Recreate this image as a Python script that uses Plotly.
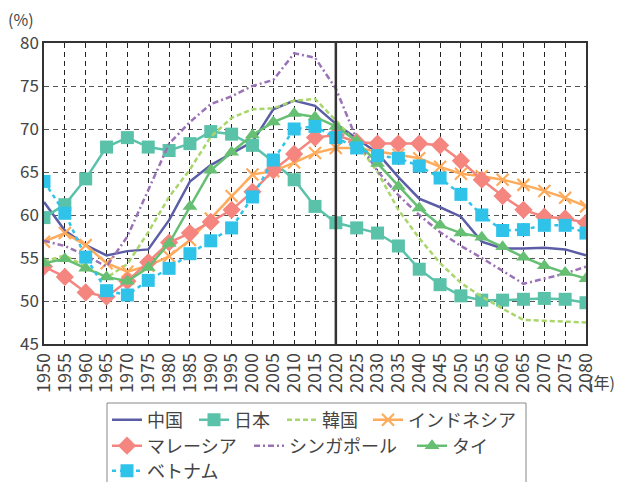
import plotly.graph_objects as go

# Working-age population share (%), 1950-2080, every 5 years
years = list(range(1950, 2085, 5))

china = [61.5, 58.2, 56.5, 55.3, 55.8, 56.0, 59.4, 63.9, 65.8, 67.2, 68.5, 72.3, 73.3, 72.7,
         70.6, 68.9, 67.2, 64.4, 61.9, 60.9, 59.8, 56.9, 56.1, 56.1, 56.2, 56.0, 55.3]
japan = [59.7, 61.2, 64.2, 67.9, 69.0, 67.9, 67.5, 68.3, 69.7, 69.4, 68.1, 66.2, 64.1, 61.0,
         59.1, 58.5, 57.9, 56.4, 53.7, 51.9, 50.6, 50.1, 50.1, 50.2, 50.3, 50.2, 49.8]
korea = [54.6, 55.3, 54.0, 52.7, 54.3, 58.0, 62.1, 65.3, 69.1, 71.3, 72.3, 72.4, 73.3, 73.5,
         71.0, 68.3, 65.0, 60.6, 57.3, 54.4, 52.1, 50.5, 49.1, 47.8, 47.7, 47.6, 47.5]
indonesia = [56.9, 57.9, 56.5, 54.4, 53.4, 54.1, 55.2, 57.1, 59.6, 62.2, 64.7, 65.1, 66.1, 67.2,
             67.8, 67.8, 67.4, 67.0, 66.6, 65.6, 64.8, 64.5, 64.1, 63.5, 62.8, 62.0, 61.0]
malaysia = [54.0, 52.8, 51.0, 50.5, 52.3, 54.5, 56.8, 57.9, 59.2, 60.6, 62.7, 65.2, 67.1, 69.0,
            69.3, 68.5, 68.3, 68.3, 68.3, 68.1, 66.3, 64.1, 62.2, 60.6, 59.8, 59.6, 59.1]
singapore = [57.0, 56.4, 55.3, 54.0, 57.5, 63.0, 68.3, 70.8, 72.9, 73.8, 75.0, 75.7, 78.8, 78.3,
             74.7, 68.8, 65.1, 62.3, 60.0, 58.0, 56.4, 55.0, 53.5, 52.0, 52.6, 53.2, 54.0]
thailand = [54.4, 54.9, 53.8, 52.8, 52.3, 53.9, 56.7, 61.0, 65.2, 67.3, 69.3, 70.8, 71.8, 71.4,
            70.3, 68.6, 66.0, 63.3, 60.8, 58.8, 57.9, 57.4, 56.3, 55.1, 54.1, 53.3, 52.6]
vietnam = [63.9, 60.2, 55.1, 51.2, 50.7, 52.4, 53.8, 55.5, 57.0, 58.5, 62.1, 66.4, 70.0, 70.3,
           69.0, 67.8, 66.9, 66.6, 65.7, 64.3, 62.4, 60.0, 58.2, 58.3, 58.8, 58.8, 57.9]

names = ["中国", "日本", "韓国", "インドネシア", "マレーシア", "シンガポール", "タイ", "ベトナム"]
base_year = 2020

FONT = "Noto Sans CJK JP, Noto Sans, sans-serif"
TEXT = "#444444"

W, H = 629, 482
ML, MR, MT, MB = 44, 43, 43, 138
PW, PH = W - ML - MR, H - MT - MB


def px_to_paper(px, py):
    return (px - ML) / PW, (H - MB - py) / PH


styles = [
    dict(color="#5b5ea6", dash="solid", symbol=None),
    dict(color="#5bc2aa", dash="solid", symbol="square"),
    dict(color="#a9d66b", dash="5px,3px", symbol=None),
    dict(color="#ffab5c", dash="solid", symbol="x-thin"),
    dict(color="#f4857f", dash="solid", symbol="diamond"),
    dict(color="#9b72b5", dash="6px,3px,2px,3px", symbol=None),
    dict(color="#66bf73", dash="solid", symbol="triangle-up"),
    dict(color="#2fc3ea", dash="4px,4px", symbol="square"),
]
series = [china, japan, korea, indonesia, malaysia, singapore, thailand, vietnam]

# Legend entry anchors (pixel position of each entry's symbol start, row centre)
legend_slots = [(113, 420), (200, 420), (288, 420), (374, 420),
                (113, 446), (255, 446), (418, 446),
                (113, 471)]

fig = go.Figure()
layout_legends = {}
for i, (name, vals, st) in enumerate(zip(names, series, styles)):
    if st["symbol"] is None:
        mode = "lines"
        marker = None
    elif st["symbol"] == "x-thin":
        mode = "lines+markers"
        marker = dict(symbol="x-thin", size=12, color=st["color"],
                      line=dict(width=2.2, color=st["color"]))
    else:
        mode = "lines+markers"
        size = {"square": 13, "diamond": 14, "triangle-up": 13}[st["symbol"]]
        marker = dict(symbol=st["symbol"], size=size, color=st["color"],
                      line=dict(width=0))
    key = "legend" if i == 0 else f"legend{i + 1}"
    fig.add_trace(go.Scatter(
        x=years, y=vals, name=name, mode=mode, marker=marker,
        line=dict(color=st["color"], width=2.5, dash=st["dash"]),
        legend=key, showlegend=True,
    ))
    sx, sy = legend_slots[i]
    lx, ly = px_to_paper(sx - 6, sy)
    layout_legends[key] = dict(
        orientation="h", x=lx, y=ly, xanchor="left", yanchor="middle",
        bgcolor="rgba(0,0,0,0)", borderwidth=0, itemwidth=30, visible=True,
        font=dict(family=FONT, size=18, color=TEXT),
    )

# Reference year divider
fig.add_shape(type="line", xref="x", yref="paper", x0=base_year, x1=base_year,
              y0=0, y1=1, line=dict(color="#333333", width=2.5))

# Legend frame
bx0, by0 = px_to_paper(107, 403)
bx1, by1 = px_to_paper(526, 495)
fig.add_shape(type="rect", xref="paper", yref="paper", x0=bx0, x1=bx1, y0=by1, y1=by0,
              line=dict(color="#888888", width=1), fillcolor="rgba(0,0,0,0)")

fig.add_annotation(text="(%)", xref="paper", yref="paper", x=0, y=1,
                   xanchor="center", yanchor="bottom", xshift=-23, yshift=10,
                   showarrow=False, font=dict(family=FONT, size=16, color=TEXT))
fig.add_annotation(text="(年)", xref="paper", yref="paper", x=1, y=0,
                   xanchor="left", yanchor="middle", xshift=0, yshift=-38,
                   showarrow=False, font=dict(family=FONT, size=16, color=TEXT))

fig.update_xaxes(
    range=[1950, 2080], tickmode="array", tickvals=years,
    ticktext=[str(y) for y in years], tickangle=-90,
    tickfont=dict(family=FONT, size=18, color=TEXT),
    showgrid=True, gridcolor="#222222", gridwidth=1, griddash="5px,4px",
    showline=True, mirror=True, linecolor="#333333", linewidth=1.5,
    ticks="", zeroline=False,
)
fig.update_yaxes(
    range=[45, 80], dtick=5, tick0=45,
    tickfont=dict(family=FONT, size=17, color=TEXT),
    showgrid=True, gridcolor="#555555", gridwidth=1, griddash="5px,4px",
    showline=True, mirror=True, linecolor="#333333", linewidth=1.5,
    ticks="", zeroline=False,
)

fig.update_layout(
    width=W, height=H,
    margin=dict(l=ML, r=MR, t=MT, b=MB, autoexpand=False),
    paper_bgcolor="white", plot_bgcolor="white",
    font=dict(family=FONT, color=TEXT),
    showlegend=True,
    **layout_legends,
)

fig.write_html("out.html")
